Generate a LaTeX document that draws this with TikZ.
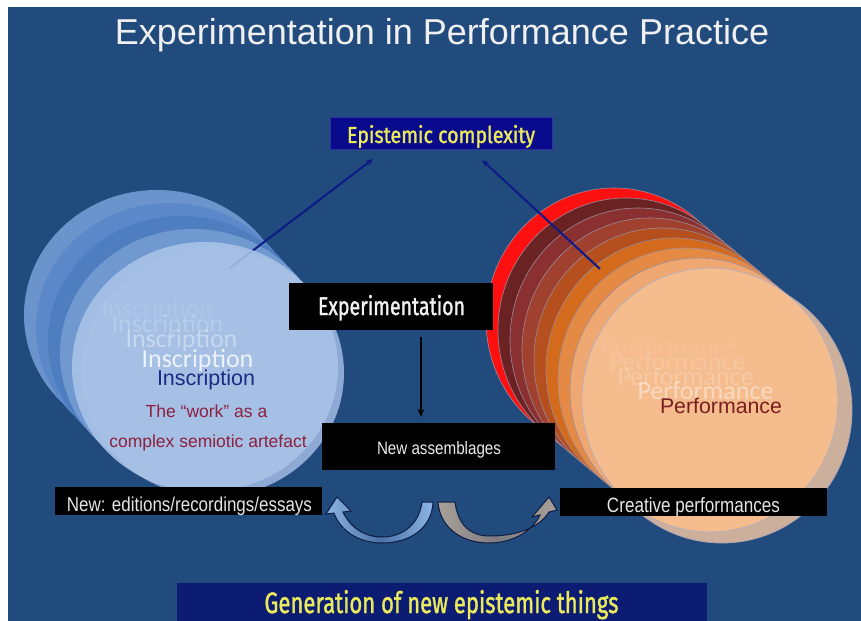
\documentclass[tikz,border=0pt]{standalone}
\usepackage{fontspec}
\usepackage{graphicx}
\setmainfont{Liberation Sans}
\newfontfamily\condfont{Fira Sans}[FakeBold=1.6]
\newfontfamily\calfont{Carlito}
\usetikzlibrary{arrows.meta}

\definecolor{bg}{HTML}{214A7D}
\definecolor{navybox}{HTML}{0A0A8C}
\definecolor{navyfoot}{HTML}{0B1C72}
\definecolor{yel}{HTML}{EAEA5C}
\definecolor{linkblue}{HTML}{0E1A86}
% blue stack, back to front
\definecolor{lbA}{HTML}{6C94CC}
\definecolor{lbB}{HTML}{5A88C8}
\definecolor{lbC}{HTML}{4E7EC0}
\definecolor{lbD}{HTML}{7099D0}
\definecolor{lbRim}{HTML}{8EAAD4}
\definecolor{lbFront}{HTML}{A9C4E7}
% warm stack, back to front
\definecolor{rwA}{HTML}{FF1010}
\definecolor{rwB}{HTML}{6B2222}
\definecolor{rwC}{HTML}{8B3030}
\definecolor{rwD}{HTML}{A0402E}
\definecolor{rwE}{HTML}{B5501E}
\definecolor{rwF}{HTML}{D46A1C}
\definecolor{rwG}{HTML}{E58A45}
\definecolor{rwH}{HTML}{F0A872}
\definecolor{rwRim}{HTML}{CDB09C}
\definecolor{rwFront}{HTML}{F5BC8E}
\definecolor{ringline}{HTML}{9A8C9C}
\definecolor{inkred}{HTML}{7A1E22}
\definecolor{inkwork}{HTML}{8E2040}
\definecolor{inkblue}{HTML}{1C2A82}
\definecolor{arrline}{HTML}{0F1E45}
\definecolor{cblueEnd}{HTML}{8CB4E4}
\definecolor{cblueMid}{HTML}{4A72A8}
\definecolor{cgreyEnd}{HTML}{A8A098}
\definecolor{cgreyMid}{HTML}{7E7C82}

\begin{document}
\begin{tikzpicture}[x=1bp,y=-1bp,
  blackbox/.style={fill=black, inner sep=0pt, draw=none},
  lbl/.style={inner sep=0pt, anchor=base, text=white},
  ghost/.style={inner sep=0pt, anchor=base, text=white, font=\calfont\fontsize{26bp}{28bp}\selectfont},
  link/.style={draw=linkblue, line width=2bp, -{Stealth[length=7bp,width=6bp]}},
  blueshell/.style={x radius=133, y radius=125},
  warmshell/.style={x radius=128, y radius=132},
  bendarrow/.style={draw=arrline, line width=1bp}]

\useasboundingbox (0,0) rectangle (861,621);
\fill[white] (0,0) rectangle (861,621);
\fill[bg] (8,7) rectangle (861,621);

% title
\node[lbl, text=white!94!black, font=\fontsize{36bp}{40bp}\selectfont] (title) at (442,45) {Experimentation in Performance Practice};

% blue stack (Inscription)
\fill[lbA] (157,315) ellipse [blueshell];
\fill[lbB] (169,328) ellipse [blueshell];
\fill[lbC] (181,341) ellipse [blueshell];
\fill[lbD] (193,354) ellipse [blueshell];
\fill[lbRim] (213,373) ellipse [x radius=131, y radius=124];

% warm stack (Performance)
\foreach \k/\c in {8/rwA,7/rwB,6/rwC,5/rwD,4/rwE,3/rwF,2/rwG,1/rwH}
  \filldraw[fill=\c, draw=ringline, line width=0.6bp] ({710-12*\k},{400-10*\k}) ellipse [warmshell];
\filldraw[fill=rwRim, draw=ringline!80!white, line width=0.8bp] (722,410) ellipse [x radius=130, y radius=133];
\filldraw[fill=rwFront, draw=ringline!70!white, line width=0.8bp] (710,400) ellipse [warmshell];

% epistemic complexity
\node[fill=navybox, draw=navybox!85!white, line width=0.8bp, minimum width=222bp, minimum height=32bp, inner sep=0pt] (epi) at (441,133) {};
\node[lbl, text=yel] (epit) at (441,143) {\resizebox{188bp}{18bp}{\condfont Epistemic complexity}};

\coordinate (epiL) at (373,159);
\coordinate (epiR) at (482,160);
\coordinate (insc) at (230,268);
\coordinate (perf) at (600,269);
\draw[link] (insc) -- (epiL);

% front of the blue stack, slightly translucent over the link
\fill[lbFront, fill opacity=0.88] (205,367) ellipse [blueshell];

\draw[link] (perf) -- (epiR);

% faded inscription echoes
\node[ghost, opacity=0.10] (g1) at (157.5,317) {Inscription};
\node[ghost, opacity=0.20] (g2) at (167.5,332) {Inscription};
\node[ghost, opacity=0.38] (g3) at (181.5,347) {Inscription};
\node[ghost, opacity=0.80] (g4) at (197.5,367) {Inscription};
\node[lbl, text=inkblue, font=\fontsize{21.5bp}{24bp}\selectfont] (inscr) at (206,385) {Inscription};
\node[lbl, text=inkwork, font=\fontsize{17.5bp}{20bp}\selectfont] (work1) at (206.5,417) {The “work” as a};
\node[lbl, text=inkwork, font=\fontsize{17.5bp}{20bp}\selectfont] (work2) at (208,447) {complex semiotic artefact};

% faded performance echoes
\node[ghost, opacity=0.07] (p0) at (670,355) {Performance};
\node[ghost, opacity=0.14] (p1) at (677.5,370) {Performance};
\node[ghost, opacity=0.22] (p2) at (685.5,385) {Performance};
\node[ghost, opacity=0.45] (p3) at (705.5,399) {Performance};
\node[lbl, text=inkred, font=\fontsize{21.3bp}{24bp}\selectfont] (perft) at (721,413) {Performance};

% experimentation and new assemblages
\node[blackbox, minimum width=204bp, minimum height=47bp] (exp) at (391,306.5) {};
\node[lbl, text=white!95!black] (expt) at (391.5,315) {\resizebox{147bp}{20bp}{\condfont Experimentation}};
\node[blackbox, minimum width=233bp, minimum height=47bp] (asm) at (438.5,446.5) {};
\node[lbl, text=white!92!black] (asmt) at (439,454) {\resizebox{124bp}{13bp}{New assemblages}};
\coordinate (ax) at (421,380);
\draw[black, line width=1.6bp, -{Stealth[length=8bp,width=7bp]}, shorten <=7bp, shorten >=6bp] (exp.south -| ax) -- (asm.north -| ax);

% outcome boxes
\node[blackbox, minimum width=267bp, minimum height=28bp] (ed) at (188.5,501) {};
\node[lbl, text=white!90!black] (edt) at (189.5,511) {\resizebox{245bp}{14.5bp}{New: editions/recordings/essays}};
\node[blackbox, minimum width=267bp, minimum height=28bp] (cr) at (693.5,502) {};
\node[lbl, text=white!90!black] (crt) at (693.5,512) {\resizebox{173bp}{15bp}{Creative performances}};

% curved arrows
\filldraw[bendarrow, left color=cblueEnd, right color=cblueEnd, middle color=cblueMid]
  (433,502) .. controls (432,528) and (410,543) .. (382,543)
  .. controls (358,543) and (340,530) .. (334,513)
  -- (326,514) -- (337,497) -- (351,511) -- (343,512)
  .. controls (350,527) and (364,537) .. (382,537)
  .. controls (402,537) and (419,525) .. (422,502) -- cycle;
\filldraw[bendarrow, left color=cgreyEnd, right color=cgreyEnd, middle color=cgreyMid]
  (438,502) .. controls (440,528) and (462,543) .. (489,543)
  .. controls (514,543) and (533,530) .. (540,515)
  -- (532,517) -- (549,497) -- (557,510) -- (549,512)
  .. controls (540,527) and (518,536) .. (490,536)
  .. controls (470,536) and (458,525) .. (455,502) -- cycle;

% footer
\node[fill=navyfoot, minimum width=530bp, minimum height=40bp, inner sep=0pt] (gen) at (442,603) {};
\node[lbl, text=yel] (gent) at (441.5,613) {\resizebox{354bp}{23bp}{\condfont Generation of new epistemic things}};
\end{tikzpicture}
\end{document}
